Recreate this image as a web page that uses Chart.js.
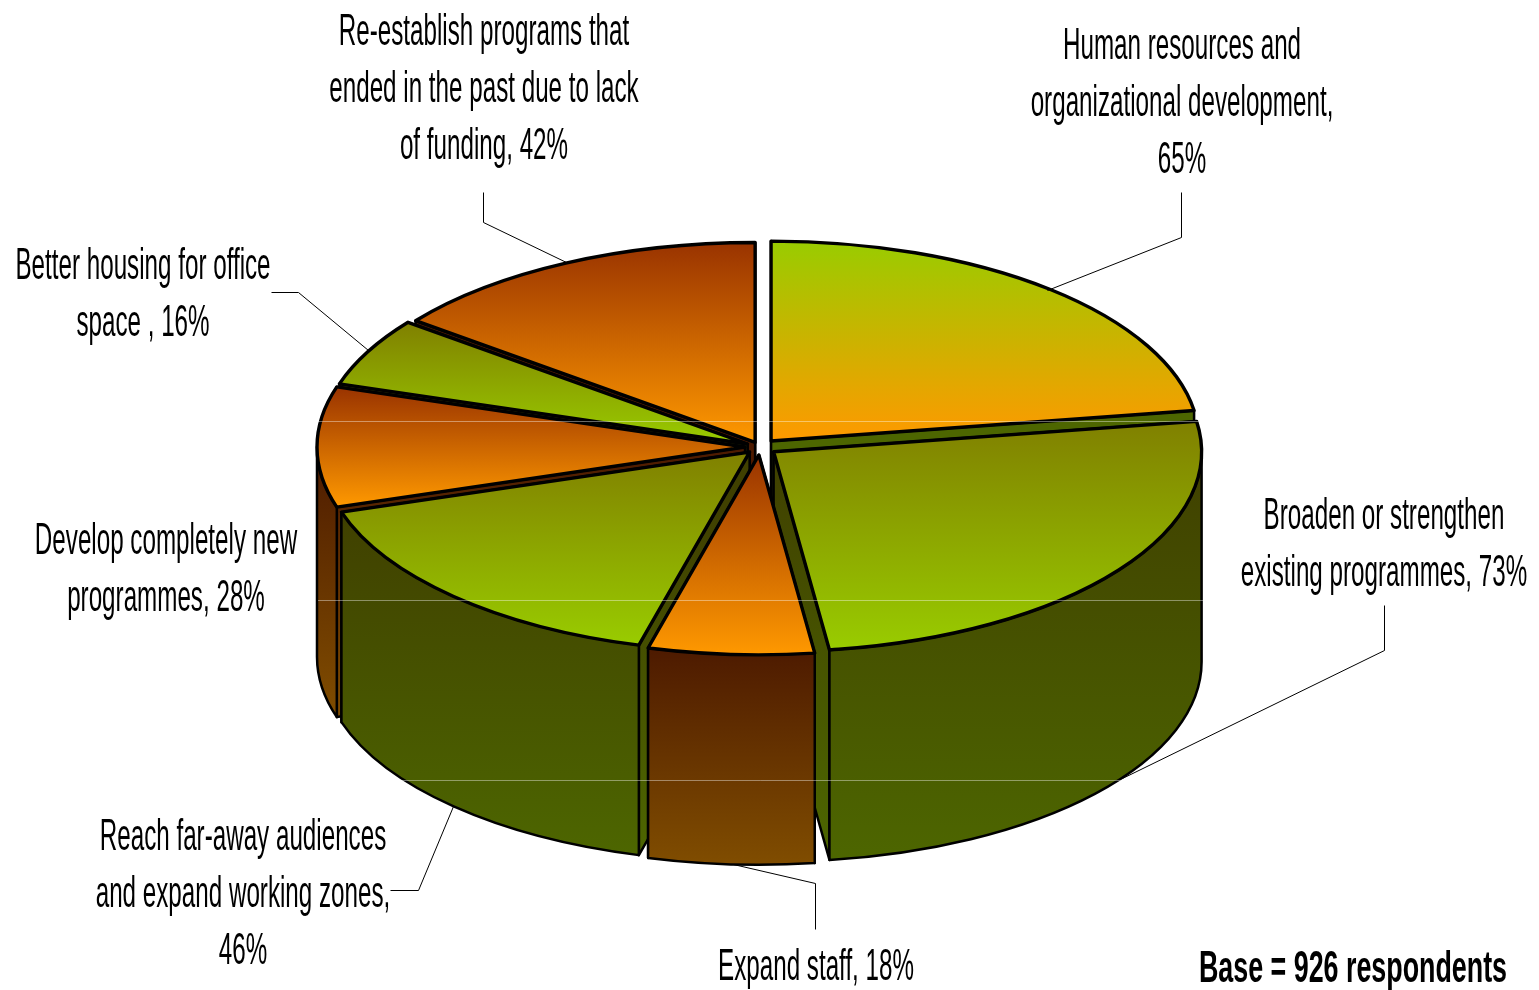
<!DOCTYPE html>
<html><head><meta charset="utf-8">
<style>html,body{margin:0;padding:0;background:#fff}canvas{display:block}</style>
<script src="https://cdn.jsdelivr.net/npm/chart.js@4/dist/chart.umd.min.js"></script>
</head><body><canvas id="c" width="1539" height="990"></canvas>
<script>
const categories=["Human resources and organizational development","Broaden or strengthen existing programmes","Expand staff","Reach far-away audiences and expand working zones","Develop completely new programmes","Better housing for office space","Re-establish programs that ended in the past due to lack of funding"];
const values=[65,73,18,46,28,16,42];
const labelLines=[["Human resources and","organizational development,","65%"],["Broaden or strengthen","existing programmes, 73%"],["Expand staff, 18%"],["Reach far-away audiences","and expand working zones,","46%"],["Develop completely new","programmes, 28%"],["Better housing for office","space , 16%"],["Re-establish programs that","ended in the past due to lack","of funding, 42%"]];
const labelX=[1182,1384,816,243,166,143,484];
const labelY=[47,517,968,838,542,267,33];
const leaders=[[[1181,192],[1181,237],[1047,290]],[[1384,605],[1384,650],[1122,778]],[[815,929],[815,883],[733,864]],[[390,890],[418,890],[453,806]],[],[[271,292],[298,292],[368,350]],[[483,192],[483,222],[566,262]]];
const note="Base = 926 respondents";
const topFrom=["#99cc00","#808000","#993300","#808000","#993300","#808000","#993300"];
const topTo=["#ff9900","#99cc00","#ff9900","#99cc00","#ff9900","#99cc00","#ff9900"];
const wallFrom=["#4d6600","#404000","#4d1a00","#404000","#4d1a00","#404000","#4d1a00"];
const wallTo=["#4d6600","#4d6600","#804d00","#4d6600","#804d00","#4d6600","#4d1a00"];
const explode=[17,17,17,15,15,14,11];
const drawOrder=[6,0,5,4,1,3,2];
const squash=0.467, depth=210, scanY=[421,600,780];

const pie3d={id:'pie3d',
 beforeDatasetsDraw(chart){
  const ctx=chart.ctx, arcs=chart.getDatasetMeta(0).data;
  const TOP=-Math.PI/2;
  drawOrder.forEach(i=>{
   const a=arcs[i], r=a.outerRadius, a0=a.startAngle, a1=a.endAngle, mid=(a0+a1)/2;
   const dx=Math.cos(mid)*explode[i], dy=Math.sin(mid)*explode[i]*squash;
   const cx=a.x+dx, cy=a.y+dy, ry=r*squash;
   const px=t=>cx+Math.cos(t)*r, py=t=>cy+Math.sin(t)*ry;
   let ys=[0,Math.sin(a0)*ry,Math.sin(a1)*ry];
   [TOP,Math.PI/2].forEach(t=>{if(t>=a0&&t<=a1)ys.push(Math.sin(t)*ry)});
   const yMin=Math.min(...ys), yMax=Math.max(...ys);
   const f0=Math.max(a0,0), f1=Math.min(a1,Math.PI);
   const wTop=f1>f0?cy+Math.min(Math.sin(f0),Math.sin(f1))*ry:cy+yMin;
   const wBot=cy+yMax+depth;
   const wg=ctx.createLinearGradient(0,wTop,0,wBot);
   wg.addColorStop(0,wallFrom[i]);wg.addColorStop(1,wallTo[i]);
   ctx.save();
   ctx.lineJoin='round';ctx.strokeStyle='#000';ctx.lineWidth=2.5;ctx.fillStyle=wg;
   // cut faces, the one further back first
   [a0,a1].sort((p,q)=>py(p)-py(q)).forEach(t=>{
    ctx.beginPath();ctx.moveTo(cx,cy);ctx.lineTo(px(t),py(t));
    ctx.lineTo(px(t),py(t)+depth);ctx.lineTo(cx,cy+depth);ctx.closePath();
    ctx.fill();ctx.stroke();
   });
   if(f1>f0){
    ctx.beginPath();
    ctx.ellipse(cx,cy,r,ry,0,f0,f1);
    ctx.ellipse(cx,cy+depth,r,ry,0,f1,f0,true);
    ctx.closePath();ctx.fill();ctx.stroke();
   }
   ctx.restore();
   const g=ctx.createLinearGradient(0,a.y+yMin/squash,0,a.y+yMax/squash);
   g.addColorStop(0,topFrom[i]);g.addColorStop(1,topTo[i]);
   const saved=a.options;
   a.options={offset:0,spacing:0,circular:true,borderAlign:'center',borderWidth:0,borderColor:'transparent',borderDash:[],borderDashOffset:0,borderJoinStyle:'round',borderRadius:0,backgroundColor:g,angle:saved.angle,selfJoin:false};
   ctx.save();
   ctx.translate(dx,a.y+dy);ctx.scale(1,squash);ctx.translate(0,-a.y);
   a.draw(ctx);
   ctx.restore();
   a.options=saved;
   ctx.save();
   ctx.lineJoin='round';ctx.strokeStyle='#000';ctx.lineWidth=3.4;
   ctx.beginPath();ctx.moveTo(cx,cy);ctx.ellipse(cx,cy,r,ry,0,a0,a1);ctx.closePath();ctx.stroke();
   ctx.restore();
  });
  const c0=arcs[0];
  ctx.save();ctx.strokeStyle='rgba(255,255,255,0.4)';ctx.lineWidth=1;
  scanY.forEach(y=>{ctx.beginPath();ctx.moveTo(c0.x-c0.outerRadius-14,y+.5);ctx.lineTo(c0.x+c0.outerRadius+15,y+.5);ctx.stroke();});
  ctx.restore();
  return false;
 },
 afterDraw(chart){
  const ctx=chart.ctx;
  ctx.save();
  ctx.strokeStyle='#000';ctx.lineWidth=1;
  leaders.forEach(l=>{if(!l.length)return;ctx.beginPath();l.forEach((p,j)=>j?ctx.lineTo(p[0]+.5,p[1]+.5):ctx.moveTo(p[0]+.5,p[1]+.5));ctx.stroke();});
  ctx.fillStyle='#000';ctx.textAlign='center';ctx.textBaseline='middle';
  ctx.font='44px "Liberation Sans Narrow","Liberation Sans"';
  labelLines.forEach((ls,i)=>ls.forEach((t,j)=>{
    ctx.save();ctx.translate(labelX[i],labelY[i]+j*57);ctx.scale(0.55,1);ctx.fillText(t,0,0);ctx.restore();
  }));
  ctx.font='bold 44px "Liberation Sans Narrow","Liberation Sans"';
  ctx.save();ctx.translate(1353,970);ctx.scale(0.61,1);ctx.fillText(note,0,0);ctx.restore();
  ctx.restore();
 }
};
new Chart(document.getElementById('c'),{type:'pie',
 data:{labels:categories,datasets:[{data:values,borderWidth:0}]},
 options:{responsive:false,animation:false,events:[],radius:428,
  layout:{padding:{left:0,right:19,top:0,bottom:96}},
  plugins:{legend:{display:false},tooltip:{enabled:false}}},
 plugins:[pie3d]});
</script></body></html>
